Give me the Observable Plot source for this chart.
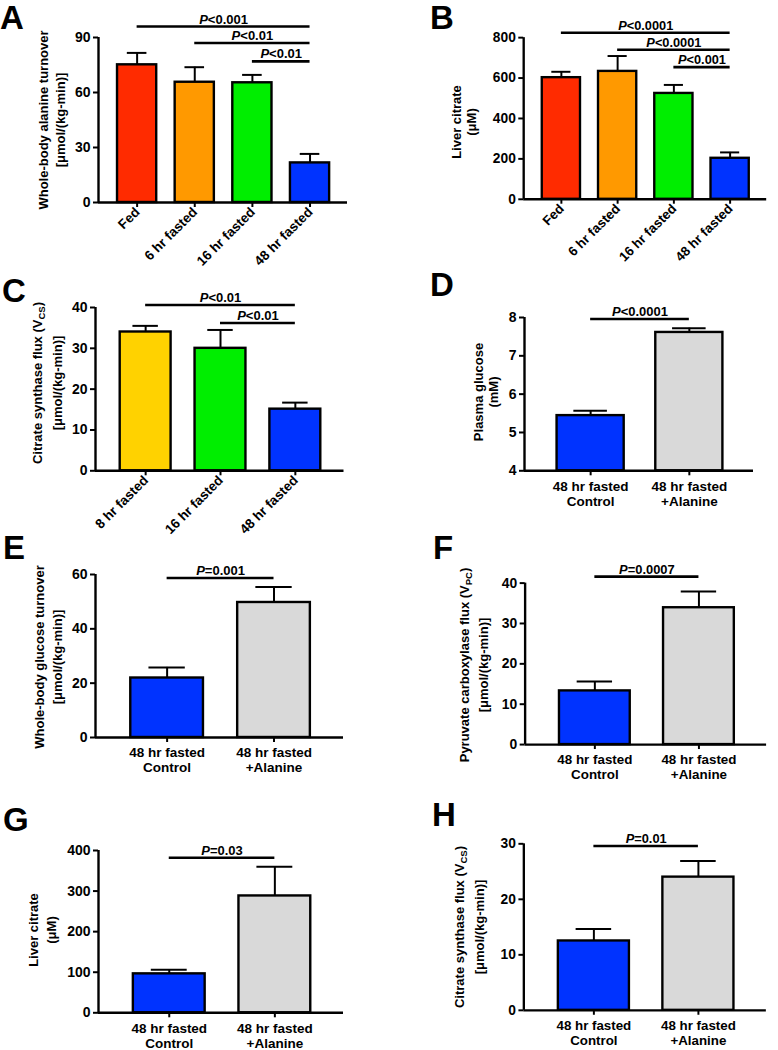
<!DOCTYPE html>
<html><head><meta charset="utf-8">
<script src="https://cdn.jsdelivr.net/npm/d3@7"></script>
<script src="https://cdn.jsdelivr.net/npm/@observablehq/plot@0.6"></script>
<style>
body{margin:0;background:#fff;}
#fig{position:relative;width:778px;height:1050px;overflow:hidden;font-family:"Liberation Sans",Arial,sans-serif;font-weight:bold;color:#000;background:#fff;}
.panel{position:absolute;}
.letter{position:absolute;font-size:33px;line-height:33px;font-weight:bold;}
.ylab{position:absolute;font-size:13px;font-weight:bold;text-align:center;white-space:nowrap;transform:translate(-50%,-50%) rotate(-90deg);}
.ylab sub{font-size:9.5px;vertical-align:-3px;line-height:0;}
</style></head><body><div id="fig"></div>
<script>
// ---------------- DATA ----------------
const catsA = ["Fed", "6 hr fasted", "16 hr fasted", "48 hr fasted"];
const meanA = [75.1, 65.6, 65.3, 21.6];
const semA  = [6.5, 8.2, 4.3, 4.9];
const sigA  = [{a:0, b:3, y:96, label:"P<0.001"}, {a:1, b:3, y:87, label:"P<0.01"}, {a:2, b:3, y:77, label:"P<0.01"}];

const catsB = ["Fed", "6 hr fasted", "16 hr fasted", "48 hr fasted"];
const meanB = [602, 633, 524, 203];
const semB  = [29, 76, 42, 29];
const sigB  = [{a:0, b:3, y:824, label:"P<0.0001"}, {a:1, b:3, y:740, label:"P<0.0001"}, {a:2, b:3, y:654, label:"P<0.001"}];

const catsC = ["8 hr fasted", "16 hr fasted", "48 hr fasted"];
const meanC = [34.0, 30.0, 15.1];
const semC  = [1.5, 4.5, 1.6];
const sigC  = [{a:0, b:2, y:40.6, label:"P<0.01"}, {a:1, b:2, y:36.2, label:"P<0.01"}];

const catsAla = ["48 hr fasted\nControl", "48 hr fasted\n+Alanine"];

const meanD = [5.44, 7.61];
const semD  = [0.13, 0.11];
const sigD  = [{a:0, b:1, y:7.96, label:"P<0.0001"}];

const meanE = [21.9, 49.7];
const semE  = [3.9, 5.7];
const sigE  = [{a:0, b:1, y:58.7, label:"P=0.001"}];

const meanF = [13.3, 33.9];
const semF  = [2.3, 4.0];
const sigF  = [{a:0, b:1, y:41.6, label:"P=0.0007"}];

const meanG = [96, 288];
const semG  = [10, 72];
const sigG  = [{a:0, b:1, y:382, label:"P=0.03"}];

const meanH = [12.5, 24.0];
const semH  = [2.15, 2.9];
const sigH  = [{a:0, b:1, y:29.6, label:"P=0.01"}];

const ticksA = [0, 30, 60, 90];
const ticksB = [0, 200, 400, 600, 800];
const ticksC = [0, 10, 20, 30, 40];
const ticksD = [4, 5, 6, 7, 8];
const ticksE = [0, 20, 40, 60];
const ticksF = [0, 10, 20, 30, 40];
const ticksG = [0, 100, 200, 300, 400];
const ticksH = [0, 10, 20, 30];

// ---------------- STYLE / LAYOUT ----------------
const RED = "#ff2b00", ORANGE = "#ff9900", GREEN = "#00ee00", BLUE = "#0033ff", YELLOW = "#ffd200", GRAY = "#d9d9d9";
const PAD_L = 0.67, PAD_R = 0.65, HALF = 0.34, CAP = 0.17;
const FONT = "'Liberation Sans', Arial, sans-serif";

const fig = document.getElementById("fig");

function panel(cfg) {
  const {cats, means, sems, colors, sig, yDomain, yTicks, frame, rotate} = cfg;
  const n = cats.length;
  const idx = d3.range(n);
  const bars = idx.map(i => ({i, mean: means[i], top: means[i] + sems[i], color: colors[i]}));
  const [x0, x1, yTop, yBot] = frame;
  const mL = 50, mR = 12, mT = 52, mB = 72;
  const xDomain = [-PAD_L, n - 1 + PAD_R];
  const base = yDomain[0];
  const svg = Plot.plot({
    width: x1 - x0 + mL + mR,
    height: yBot - yTop + mT + mB,
    marginLeft: mL, marginRight: mR, marginTop: mT, marginBottom: mB,
    x: {domain: xDomain},
    y: {domain: yDomain},
    color: {type: "identity"},
    style: {fontFamily: FONT, fontSize: "13px", fontWeight: "bold", background: "transparent", overflow: "visible", color: "#000"},
    marks: [
      Plot.rectY(bars, {x1: d => d.i - HALF, x2: d => d.i + HALF, y1: base, y2: "mean", fill: "color", stroke: "#000", strokeWidth: 2.4}),
      Plot.ruleX(bars, {x: "i", y1: "mean", y2: "top", stroke: "#000", strokeWidth: 2}),
      Plot.ruleY(bars, {x1: d => d.i - CAP, x2: d => d.i + CAP, y: "top", stroke: "#000", strokeWidth: 2}),
      Plot.ruleY(sig, {x1: "a", x2: "b", y: "y", stroke: "#000", strokeWidth: 2.6}),
      Plot.text(sig, {x: d => (d.a + d.b) / 2, y: "y", text: "label", lineAnchor: "bottom", dy: -3, fontSize: 13, fontWeight: "bold"}),
      Plot.ruleX([xDomain[0]], {stroke: "#000", strokeWidth: 2.4}),
      Plot.ruleY([base], {stroke: "#000", strokeWidth: 2.4}),
      Plot.axisY({ticks: yTicks, tickFormat: d => String(d), tickSize: 5, tickPadding: 3, strokeWidth: 2, label: null, fontSize: 14, fontWeight: "bold"}),
      Plot.axisX({ticks: idx, tickFormat: i => cats[i], tickSize: 5, tickPadding: rotate ? 2 : 4, strokeWidth: 2, label: null,
                  tickRotate: rotate ? -45 : 0, fontSize: 13.5, fontWeight: "bold", lineHeight: 1.12})
    ]
  });
  // italic P in significance labels
  d3.select(svg).selectAll("text").each(function() {
    const t = this.textContent;
    if (/^P[<=]/.test(t) && this.childElementCount === 0) {
      const s = d3.select(this);
      s.text("");
      s.append("tspan").attr("font-style", "italic").text("P");
      s.append("tspan").text(t.slice(1));
    }
  });
  const wrap = document.createElement("div");
  wrap.className = "panel";
  wrap.style.left = (x0 - mL) + "px";
  wrap.style.top = (yTop - mT) + "px";
  wrap.appendChild(svg);
  fig.appendChild(wrap);

  const L = document.createElement("div");
  L.className = "letter";
  L.textContent = cfg.letter[0];
  L.style.left = cfg.letter[1] + "px";
  L.style.top = (cfg.letter[2] - 4.5) + "px";
  fig.appendChild(L);

  const Y = document.createElement("div");
  Y.className = "ylab";
  Y.innerHTML = cfg.ylab[0];
  Y.style.left = cfg.ylab[1] + "px";
  Y.style.top = cfg.ylab[2] + "px";
  Y.style.lineHeight = cfg.ylab[3] + "px";
  fig.appendChild(Y);
}

const UNIT = "[μmol/(kg-min)]";

panel({cats: catsA, means: meanA, sems: semA, colors: [RED, ORANGE, GREEN, BLUE], sig: sigA,
  yDomain: [0, 90], yTicks: ticksA, frame: [98, 347, 37, 202], rotate: true,
  letter: ["A", 0, 5], ylab: ["Whole-body alanine turnover<br>" + UNIT, 51.5, 120, 17]});

panel({cats: catsB, means: meanB, sems: semB, colors: [RED, ORANGE, GREEN, BLUE], sig: sigB,
  yDomain: [0, 800], yTicks: ticksB, frame: [524, 771, 37.7, 202], rotate: true,
  letter: ["B", 430, 5], ylab: ["Liver citrate<br>(μM)", 464, 122, 15]});

panel({cats: catsC, means: meanC, sems: semC, colors: [YELLOW, GREEN, BLUE], sig: sigC,
  yDomain: [0, 40], yTicks: ticksC, frame: [94.5, 343, 306.7, 470], rotate: true,
  letter: ["C", 2, 278], ylab: ["Citrate synthase flux (V<sub>CS</sub>)<br>" + UNIT, 48, 383, 20]});

panel({cats: catsAla, means: meanD, sems: semD, colors: [BLUE, GRAY], sig: sigD,
  yDomain: [4, 8], yTicks: ticksD, frame: [524.3, 753.3, 316.7, 470], rotate: false,
  letter: ["D", 430, 272], ylab: ["Plasma glucose<br>(mM)", 485.5, 391.7, 15]});

panel({cats: catsAla, means: meanE, sems: semE, colors: [BLUE, GRAY], sig: sigE,
  yDomain: [0, 60], yTicks: ticksE, frame: [95, 343, 574.3, 737.3], rotate: false,
  letter: ["E", 3, 535], ylab: ["Whole-body glucose turnover<br>" + UNIT, 49, 656.7, 18]});

panel({cats: catsAla, means: meanF, sems: semF, colors: [BLUE, GRAY], sig: sigF,
  yDomain: [0, 40], yTicks: ticksF, frame: [525, 768.3, 583.3, 746], rotate: false,
  letter: ["F", 433, 535], ylab: ["Pyruvate carboxylase flux (V<sub>PC</sub>)<br>" + UNIT, 474, 665, 19]});

panel({cats: catsAla, means: meanG, sems: semG, colors: [BLUE, GRAY], sig: sigG,
  yDomain: [0, 400], yTicks: ticksG, frame: [98.3, 343.3, 850, 1012.3], rotate: false,
  letter: ["G", 3, 807], ylab: ["Liver citrate<br>(μM)", 42.5, 930, 18]});

panel({cats: catsAla, means: meanH, sems: semH, colors: [BLUE, GRAY], sig: sigH,
  yDomain: [0, 30], yTicks: ticksH, frame: [524.3, 770, 844, 1012.7], rotate: false,
  letter: ["H", 432, 802], ylab: ["Citrate synthase flux (V<sub>CS</sub>)<br>" + UNIT, 470, 926.7, 20]});
</script>
</body></html>
